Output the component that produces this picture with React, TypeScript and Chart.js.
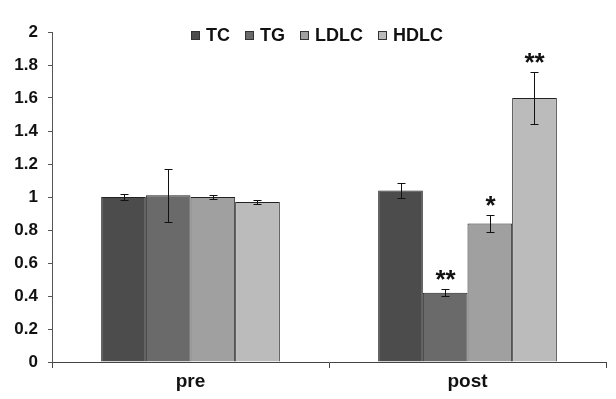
import React, { useEffect, useRef } from "react";
import { Chart, registerables } from "chart.js";

Chart.register(...registerables);

const categories = ["pre", "post"];
const seriesNames = ["TC", "TG", "LDLC", "HDLC"];
const tcValues = [1.0, 1.04];
const tgValues = [1.01, 0.42];
const ldlcValues = [1.0, 0.84];
const hdlcValues = [0.97, 1.6];
const tcErrors = [0.02, 0.045];
const tgErrors = [0.16, 0.02];
const ldlcErrors = [0.01, 0.05];
const hdlcErrors = [0.01, 0.16];
const tcSig = ["", ""];
const tgSig = ["", "**"];
const ldlcSig = ["", "*"];
const hdlcSig = ["", "**"];
const yTickValues = [0, 0.2, 0.4, 0.6, 0.8, 1, 1.2, 1.4, 1.6, 1.8, 2];

const colors = ["#4c4c4c", "#6a6a6a", "#a0a0a0", "#bbbbbb"];
const FONT = "Arial, 'Liberation Sans', sans-serif";

const allValues = [tcValues, tgValues, ldlcValues, hdlcValues];
const allErrors = [tcErrors, tgErrors, ldlcErrors, hdlcErrors];
const allSig = [tcSig, tgSig, ldlcSig, hdlcSig];

const extrasPlugin = {
  id: "extras",
  afterDatasetsDraw(chart: any) {
    const ctx = chart.ctx;
    const y = chart.scales.y;
    ctx.save();
    chart.data.datasets.forEach((ds: any, i: number) => {
      const meta = chart.getDatasetMeta(i);
      meta.data.forEach((el: any, j: number) => {
        const v = allValues[i][j];
        const e = allErrors[i][j];
        const x = Math.round(el.x) + 0.5;
        const yTop = Math.round(y.getPixelForValue(v + e)) + 0.5;
        const yBot = Math.round(y.getPixelForValue(v - e)) + 0.5;
        ctx.strokeStyle = "#111";
        ctx.lineWidth = 1;
        ctx.beginPath();
        ctx.moveTo(x, yTop);
        ctx.lineTo(x, yBot);
        ctx.moveTo(x - 4, yTop);
        ctx.lineTo(x + 4, yTop);
        ctx.moveTo(x - 4, yBot);
        ctx.lineTo(x + 4, yBot);
        ctx.stroke();
        const s = allSig[i][j];
        if (s) {
          ctx.fillStyle = "#111";
          ctx.font = `bold 26px ${FONT}`;
          ctx.textAlign = "center";
          ctx.textBaseline = "alphabetic";
          ctx.fillText(s, x, yTop - 2);
        }
      });
    });
    ctx.restore();
  },
  afterDraw(chart: any) {
    const ctx = chart.ctx;
    const area = chart.chartArea;
    ctx.save();
    ctx.font = `bold 18px ${FONT}`;
    const box = 9;
    const gap = 6;
    const spacing = 15;
    const widths = seriesNames.map((n) => box + gap + ctx.measureText(n).width);
    const total = widths.reduce((a, b) => a + b, 0) + spacing * (widths.length - 1);
    let x = (area.left + area.right) / 2 - 12 - total / 2;
    const cy = area.top + 3.5;
    seriesNames.forEach((n, i) => {
      ctx.fillStyle = colors[i];
      ctx.fillRect(Math.round(x), Math.round(cy - box / 2), box, box);
      ctx.strokeStyle = "#333";
      ctx.lineWidth = 1;
      ctx.strokeRect(Math.round(x) + 0.5, Math.round(cy - box / 2) + 0.5, box - 1, box - 1);
      ctx.fillStyle = "#111";
      ctx.textAlign = "left";
      ctx.textBaseline = "middle";
      ctx.fillText(n, x + box + gap, cy + 1);
      x += widths[i] + spacing;
    });
    ctx.restore();
  },
};

export default function App() {
  const ref = useRef<HTMLCanvasElement>(null);
  useEffect(() => {
    if (!ref.current) return;
    const chart = new Chart(ref.current, {
      type: "bar",
      data: {
        labels: categories,
        datasets: seriesNames.map((name, i) => ({
          label: name,
          data: allValues[i],
          backgroundColor: colors[i],
          borderColor: "#222",
          borderWidth: 1,
          categoryPercentage: 0.645,
          barPercentage: 1,
        })),
      },
      options: {
        animation: false,
        responsive: false,
        maintainAspectRatio: false,
        layout: { padding: { top: 32, right: 10, left: 0, bottom: 0 } },
        plugins: {
          legend: { display: false },
          tooltip: { enabled: false },
        },
        scales: {
          x: {
            grid: {
              offset: true,
              drawOnChartArea: false,
              tickLength: 6,
              color: "#444",
            },
            border: { color: "#444", width: 1 },
            ticks: {
              color: "#111",
              font: { family: FONT, size: 19, weight: "bold" },
              padding: 2,
            },
            afterFit(scale: any) {
              scale.height = 37;
            },
          },
          y: {
            min: 0,
            max: 2,
            afterBuildTicks(scale: any) {
              scale.ticks = yTickValues.map((v) => ({ value: v }));
            },
            grid: { drawOnChartArea: false, tickLength: 4, color: "#555" },
            border: { color: "#555", width: 1 },
            ticks: {
              color: "#111",
              font: { family: FONT, size: 17, weight: "bold" },
              padding: 10,
              callback: (v: any) => String(Number(Number(v).toFixed(1))),
            },
            afterFit(scale: any) {
              scale.width = 52;
            },
          },
        },
      },
      plugins: [extrasPlugin],
    });
    return () => chart.destroy();
  }, []);
  return (
    <div style={{ position: "fixed", left: 0, top: 0, width: 616, height: 399, background: "#fff" }}>
      <canvas ref={ref} width={616} height={399} style={{ width: 616, height: 399, display: "block" }} />
    </div>
  );
}
